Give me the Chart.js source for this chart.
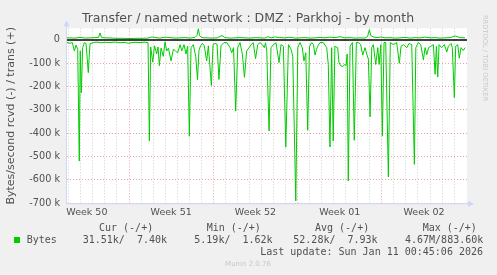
<!DOCTYPE html>
<html>
<head>
<meta charset="utf-8">
<title>Transfer / named network : DMZ : Parkhoj - by month</title>
<script src="https://cdn.jsdelivr.net/npm/chart.js@4.4.1/dist/chart.umd.min.js"></script>
<style>
  html, body { margin: 0; padding: 0; background: #f0f0f0; }
  canvas { display: block; }
</style>
</head>
<body>
<canvas id="transferChart" width="497" height="275"></canvas>
<script>
// x values are days counted from the Monday that opens week 50
const weekLabels = ['Week 50', 'Week 51', 'Week 52', 'Week 01', 'Week 02'];

// received bytes/second (drawn below zero), in k
const rcvdDays = [1.85,2.10,2.29,2.46,2.60,2.74,2.87,2.95,3.04,3.15,
  3.29,3.43,3.62,3.76,4.03,4.34,4.67,5.01,5.42,5.84,
  6.25,6.67,6.92,7.17,7.50,7.91,8.33,8.58,8.69,8.80,
  8.97,9.12,9.30,9.41,9.52,9.66,9.85,9.99,10.13,10.28,
  10.49,10.68,10.86,11.04,11.24,11.38,11.57,11.73,11.87,12.01,
  12.15,12.34,12.54,12.69,12.81,12.94,13.10,13.25,13.45,13.59,
  13.84,13.98,14.14,14.31,14.47,14.64,14.89,15.14,15.39,15.53,
  15.68,15.86,16.03,16.22,16.41,16.59,16.77,16.97,17.13,17.32,
  17.51,17.69,17.88,18.07,18.24,18.34,18.44,18.63,18.79,18.99,
  19.21,19.46,19.62,19.82,20.02,20.24,20.46,20.60,20.85,21.02,
  21.20,21.39,21.53,21.68,21.84,21.99,22.17,22.32,22.45,22.57,
  22.67,22.86,23.14,23.42,23.55,23.69,23.83,23.96,24.10,24.33,
  24.44,24.57,24.75,24.90,25.02,25.12,25.21,25.36,25.55,25.71,
  25.88,26.05,26.24,26.41,26.60,26.74,26.88,27.02,27.16,27.29,
  27.49,27.66,27.77,27.91,28.04,28.18,28.32,28.54,28.70,28.95,
  29.23,29.45,29.59,29.80,30.07,30.26,30.48,30.70,30.82,31.03,
  31.23,31.45,31.59,31.73,31.88,32.06,32.28,32.42,32.53,32.64,
  32.75,32.96,33.19,33.39,33.52,33.75,33.85,34.02,34.13,34.30,
  34.43,34.57,34.76,34.91];
const rcvdK = [11,14,11,47,22,40,519,47,226,33,
  11,16,140,16,11,9,12,10,11,9,
  12,10,14,12,10,11,9,12,433,30,
  95,25,60,30,110,35,70,8,47,35,
  90,40,47,55,20,47,20,60,27,412,
  33,20,70,170,45,25,15,25,90,25,
  195,20,15,18,169,25,11,12,33,55,
  33,305,33,11,60,160,47,33,20,12,
  80,20,11,20,33,12,47,390,33,20,
  12,97,20,27,459,20,40,70,690,33,
  11,33,90,55,387,27,11,20,65,40,
  27,11,11,33,105,459,33,433,27,33,
  97,110,114,105,110,60,604,27,11,430,
  11,11,20,65,33,60,82,330,33,20,
  105,33,105,20,412,11,11,587,11,20,
  11,100,27,20,33,15,20,533,33,11,
  20,85,33,63,33,27,20,147,27,159,
  20,33,20,52,27,15,33,247,27,20,
  78,33,45,33];

// transmitted bytes/second (drawn above zero), in k
const transDays = [1.85,2.51,2.93,3.35,3.76,4.18,4.47,4.59,4.72,5.09,
  5.59,6.09,6.58,7.08,7.58,8.08,8.58,8.91,9.24,9.57,
  9.99,10.40,10.82,11.24,11.65,12.07,12.48,12.65,12.76,12.86,
  13.06,13.48,13.89,14.31,14.72,14.97,15.39,15.80,16.22,16.63,
  17.05,17.46,17.88,18.29,18.54,18.79,19.12,19.53,19.95,20.36,
  20.78,21.20,21.61,22.03,22.45,22.86,23.28,23.69,24.11,24.53,
  24.86,25.36,25.77,26.19,26.60,26.81,26.96,27.09,27.34,27.68,
  27.93,28.26,28.67,29.09,29.51,29.92,30.34,30.76,31.17,31.59,
  32.00,32.42,32.83,33.25,33.67,34.08,34.50,34.91];
const transK = [9,8,11,8,9,10,11,30,10,9,
  8,7,7,6,7,7,8,13,10,8,
  12,10,8,9,10,8,11,20,48,18,
  10,9,8,9,19,10,8,9,10,9,
  8,10,9,8,14,9,13,10,9,12,
  8,9,10,8,9,11,9,12,10,14,
  9,10,8,9,8,14,44,18,12,10,
  13,9,10,8,9,11,8,10,9,12,
  9,10,8,9,10,17,10,9];

// legend figures (rcvd / trans)
const statHeaders = ['Cur (-/+)', 'Min (-/+)', 'Avg (-/+)', 'Max (-/+)'];
const statValues = ['31.51k/  7.40k', '5.19k/  1.62k', '52.28k/  7.93k', '4.67M/883.60k'];
const lastUpdate = 'Last update: Sun Jan 11 00:45:06 2026';

const GREEN = '#00cc00';
const TEXT = '#505050';
const AXIS = '#cfd6f8';
const RED_GRID = 'rgba(230,130,130,0.75)';
const GRAY_GRID = '#cfcfcf';

function toPoints(days, vals, sign) {
    return days.map((d, i) => ({ x: d, y: sign * vals[i] * 1000 }));
}

// frame, zero line, axes arrows and all the rrdtool style texts
const muninDecor = {
    id: 'muninDecor',
    beforeDraw(chart) {
        const { ctx, chartArea: a } = chart;
        ctx.save();
        ctx.fillStyle = '#f0f0f0';
        ctx.fillRect(0, 0, chart.width, chart.height);
        ctx.fillStyle = '#ffffff';
        ctx.fillRect(a.left, a.top, a.right - a.left, a.bottom - a.top);
        ctx.restore();
    },
    beforeDatasetsDraw(chart) {
        const { ctx, chartArea: a } = chart;
        const y0 = chart.scales.y.getPixelForValue(0);
        ctx.save();
        ctx.strokeStyle = '#000000';
        ctx.lineWidth = 1.5;
        ctx.beginPath();
        ctx.moveTo(a.left, y0);
        ctx.lineTo(a.right, y0);
        ctx.stroke();
        ctx.restore();
    },
    afterDraw(chart) {
        const { ctx, chartArea: a } = chart;
        ctx.save();

        // axes with arrows
        ctx.strokeStyle = AXIS;
        ctx.fillStyle = AXIS;
        ctx.lineWidth = 1;
        ctx.beginPath();
        ctx.moveTo(a.left - 0.5, a.bottom + 0.5);
        ctx.lineTo(a.right + 2, a.bottom + 0.5);
        ctx.moveTo(a.left - 0.5, a.bottom + 0.5);
        ctx.lineTo(a.left - 0.5, a.top - 4);
        ctx.stroke();
        ctx.beginPath();
        ctx.moveTo(a.right + 7, a.bottom + 0.5);
        ctx.lineTo(a.right + 1, a.bottom - 2.5);
        ctx.lineTo(a.right + 1, a.bottom + 3.5);
        ctx.closePath();
        ctx.fill();
        ctx.beginPath();
        ctx.moveTo(a.left - 0.5, a.top - 8);
        ctx.lineTo(a.left - 3.5, a.top - 2);
        ctx.lineTo(a.left + 2.5, a.top - 2);
        ctx.closePath();
        ctx.fill();

        // title
        ctx.fillStyle = TEXT;
        ctx.font = '12.5px "DejaVu Sans"';
        ctx.textAlign = 'center';
        ctx.textBaseline = 'alphabetic';
        ctx.fillText('Transfer / named network : DMZ : Parkhoj - by month', 248, 22.3);

        // vertical axis title
        ctx.save();
        ctx.translate(14, (a.top + a.bottom) / 2);
        ctx.rotate(-Math.PI / 2);
        ctx.font = '11px "DejaVu Sans"';
        ctx.textAlign = 'center';
        ctx.textBaseline = 'alphabetic';
        ctx.fillText('Bytes/second rcvd (-) / trans (+)', 0, 0);
        ctx.restore();

        // rrdtool credit on the right edge
        ctx.save();
        ctx.translate(485, 58);
        ctx.rotate(Math.PI / 2);
        ctx.fillStyle = '#c8c8c8';
        ctx.font = '6.7px "DejaVu Sans"';
        ctx.textAlign = 'center';
        ctx.textBaseline = 'middle';
        ctx.fillText('RRDTOOL / TOBI OETIKER', 0, 0);
        ctx.restore();

        // legend table
        ctx.font = '10px "DejaVu Sans Mono"';
        ctx.textAlign = 'left';
        ctx.textBaseline = 'middle';
        ctx.fillStyle = TEXT;
        const headerX = [99, 206.7, 315, 422.7];
        statHeaders.forEach((h, i) => ctx.fillText(h, headerX[i], 228));
        ctx.fillStyle = GREEN;
        ctx.fillRect(14, 237, 6, 6);
        ctx.fillStyle = TEXT;
        ctx.fillText('Bytes', 26.7, 240);
        const valueX = [82.7, 194.3, 293.3, 405];
        statValues.forEach((v, i) => ctx.fillText(v, valueX[i], 240));
        ctx.textAlign = 'right';
        ctx.fillText(lastUpdate, 483, 252);

        ctx.textAlign = 'center';
        ctx.fillStyle = '#c8c8c8';
        ctx.font = '7px "DejaVu Sans"';
        ctx.fillText('Munin 2.0.76', 248, 264);
        ctx.restore();
    }
};

const ctx = document.getElementById('transferChart').getContext('2d');
const transferChart = new Chart(ctx, {
    type: 'line',
    data: {
        datasets: [{
            label: 'rcvd',
            data: toPoints(rcvdDays, rcvdK, -1),
            borderColor: GREEN,
            borderWidth: 1,
            pointRadius: 0,
            tension: 0,
            fill: false
        }, {
            label: 'trans',
            data: toPoints(transDays, transK, 1),
            borderColor: GREEN,
            borderWidth: 1,
            pointRadius: 0,
            tension: 0,
            fill: false
        }]
    },
    options: {
        responsive: false,
        animation: false,
        events: [],
        layout: { padding: { top: 28.3, right: 30, left: 0, bottom: 0 } },
        plugins: {
            legend: { display: false },
            title: { display: false },
            tooltip: { enabled: false }
        },
        scales: {
            x: {
                type: 'linear',
                min: 1.85,
                max: 35.07,
                afterBuildTicks(scale) {
                    const ticks = [];
                    for (let d = 2; d <= 34; d++) ticks.push({ value: d });
                    weekLabels.forEach((w, i) => ticks.push({ value: i * 7 + 3.5 }));
                    ticks.sort((p, q) => p.value - q.value);
                    scale.ticks = ticks;
                },
                afterFit(scale) {
                    scale.height = 71.7;
                    scale.paddingLeft = 0;
                    scale.paddingRight = 0;
                },
                ticks: {
                    autoSkip: false,
                    maxRotation: 0,
                    padding: 4,
                    color: TEXT,
                    font: { family: 'DejaVu Sans', size: 9.5 },
                    callback(value) {
                        const i = (value - 3.5) / 7;
                        return Number.isInteger(i) ? weekLabels[i] : '';
                    }
                },
                grid: {
                    drawTicks: false,
                    color(c) {
                        const v = c.tick.value;
                        if (!Number.isInteger(v)) return 'rgba(0,0,0,0)';
                        return v % 7 === 0 ? RED_GRID : GRAY_GRID;
                    }
                },
                border: { display: false, dash: [1, 2] }
            },
            y: {
                min: -700000,
                max: 50000,
                afterFit(scale) {
                    scale.width = 67;
                    scale.paddingTop = 0;
                    scale.paddingBottom = 0;
                },
                ticks: {
                    stepSize: 50000,
                    padding: 7,
                    color: TEXT,
                    font: { family: 'DejaVu Sans', size: 9.7 },
                    callback(value) {
                        if (value % 100000 !== 0) return '';
                        return value === 0 ? '0' : (value / 1000) + ' k';
                    }
                },
                grid: {
                    drawTicks: false,
                    color(c) {
                        const v = c.tick.value;
                        if (v === 0) return 'rgba(0,0,0,0)';
                        return v % 100000 === 0 ? RED_GRID : GRAY_GRID;
                    }
                },
                border: { display: false, dash: [1, 2] }
            }
        }
    },
    plugins: [muninDecor]
});
</script>
</body>
</html>
